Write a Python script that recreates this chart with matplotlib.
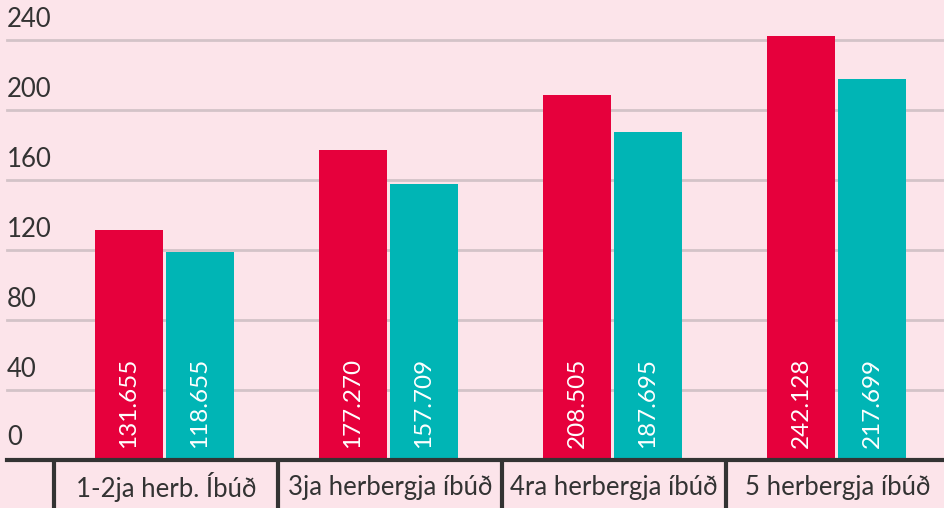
import matplotlib.pyplot as plt
import numpy as np

categories = ["1-2ja herb. Íbúð", "3ja herbergja íbúð", "4ra herbergja íbúð", "5 herbergja íbúð"]
red_vals = [131.655, 177.270, 208.505, 242.128]
teal_vals = [118.655, 157.709, 187.695, 217.699]
yticks = [0, 40, 80, 120, 160, 200, 240]

bg = "#fce4ea"
red = "#e6003c"
teal = "#00b5b5"
dark = "#333333"

plt.rcParams['font.family'] = ['Lato', 'DejaVu Sans']

fig = plt.figure(figsize=(9.45, 5.08), dpi=100, facecolor=bg)
ax = fig.add_axes([0, 0, 1, 1], facecolor=bg)

W = 945.0
px_per_unit = 1.75
ax.set_xlim(-164.5 / 224, (W - 164.5) / 224)
ax.set_ylim(-48 / px_per_unit, 460 / px_per_unit)

x = np.arange(len(categories))
bw = 68 / 224
off = 35.5 / 224

# grid lines
for t in yticks[1:]:
    ax.axhline(t, xmin=7 / W, xmax=1, color="#d3c3c8", lw=2, zorder=1)
    ax.text(-157.5 / 224, t + 8 / px_per_unit, str(t), fontsize=18.5, color=dark,
            ha="left", va="bottom", zorder=3)
ax.text(-157.5 / 224, 10 / px_per_unit, "0", fontsize=18.5, color=dark,
        ha="left", va="bottom", zorder=3)

ax.bar(x - off, red_vals, width=bw, color=red, zorder=2)
ax.bar(x + off, teal_vals, width=bw, color=teal, zorder=2)

for i in range(len(categories)):
    ax.text(x[i] - off, 12 / px_per_unit, f"{red_vals[i]:.3f}", rotation=90,
            color="white", fontsize=17.5, ha="center", va="bottom", zorder=4)
    ax.text(x[i] + off, 12 / px_per_unit, f"{teal_vals[i]:.3f}", rotation=90,
            color="white", fontsize=17.5, ha="center", va="bottom", zorder=4)
    ax.text(x[i] + 1.5 / 224, -27 / px_per_unit, categories[i], fontsize=18.5,
            color=dark, ha="center", va="center", zorder=4)

# base line and separators
ax.axhline(0, xmin=7 / W, xmax=1, color=dark, lw=3, zorder=5)
for i in range(len(categories)):
    xs = x[i] - 110.5 / 224
    ax.plot([xs, xs], [0, -48 / px_per_unit], color=dark, lw=3, zorder=5,
            solid_capstyle="butt")

ax.axis("off")
fig.savefig("out.png", dpi=100, facecolor=bg)
